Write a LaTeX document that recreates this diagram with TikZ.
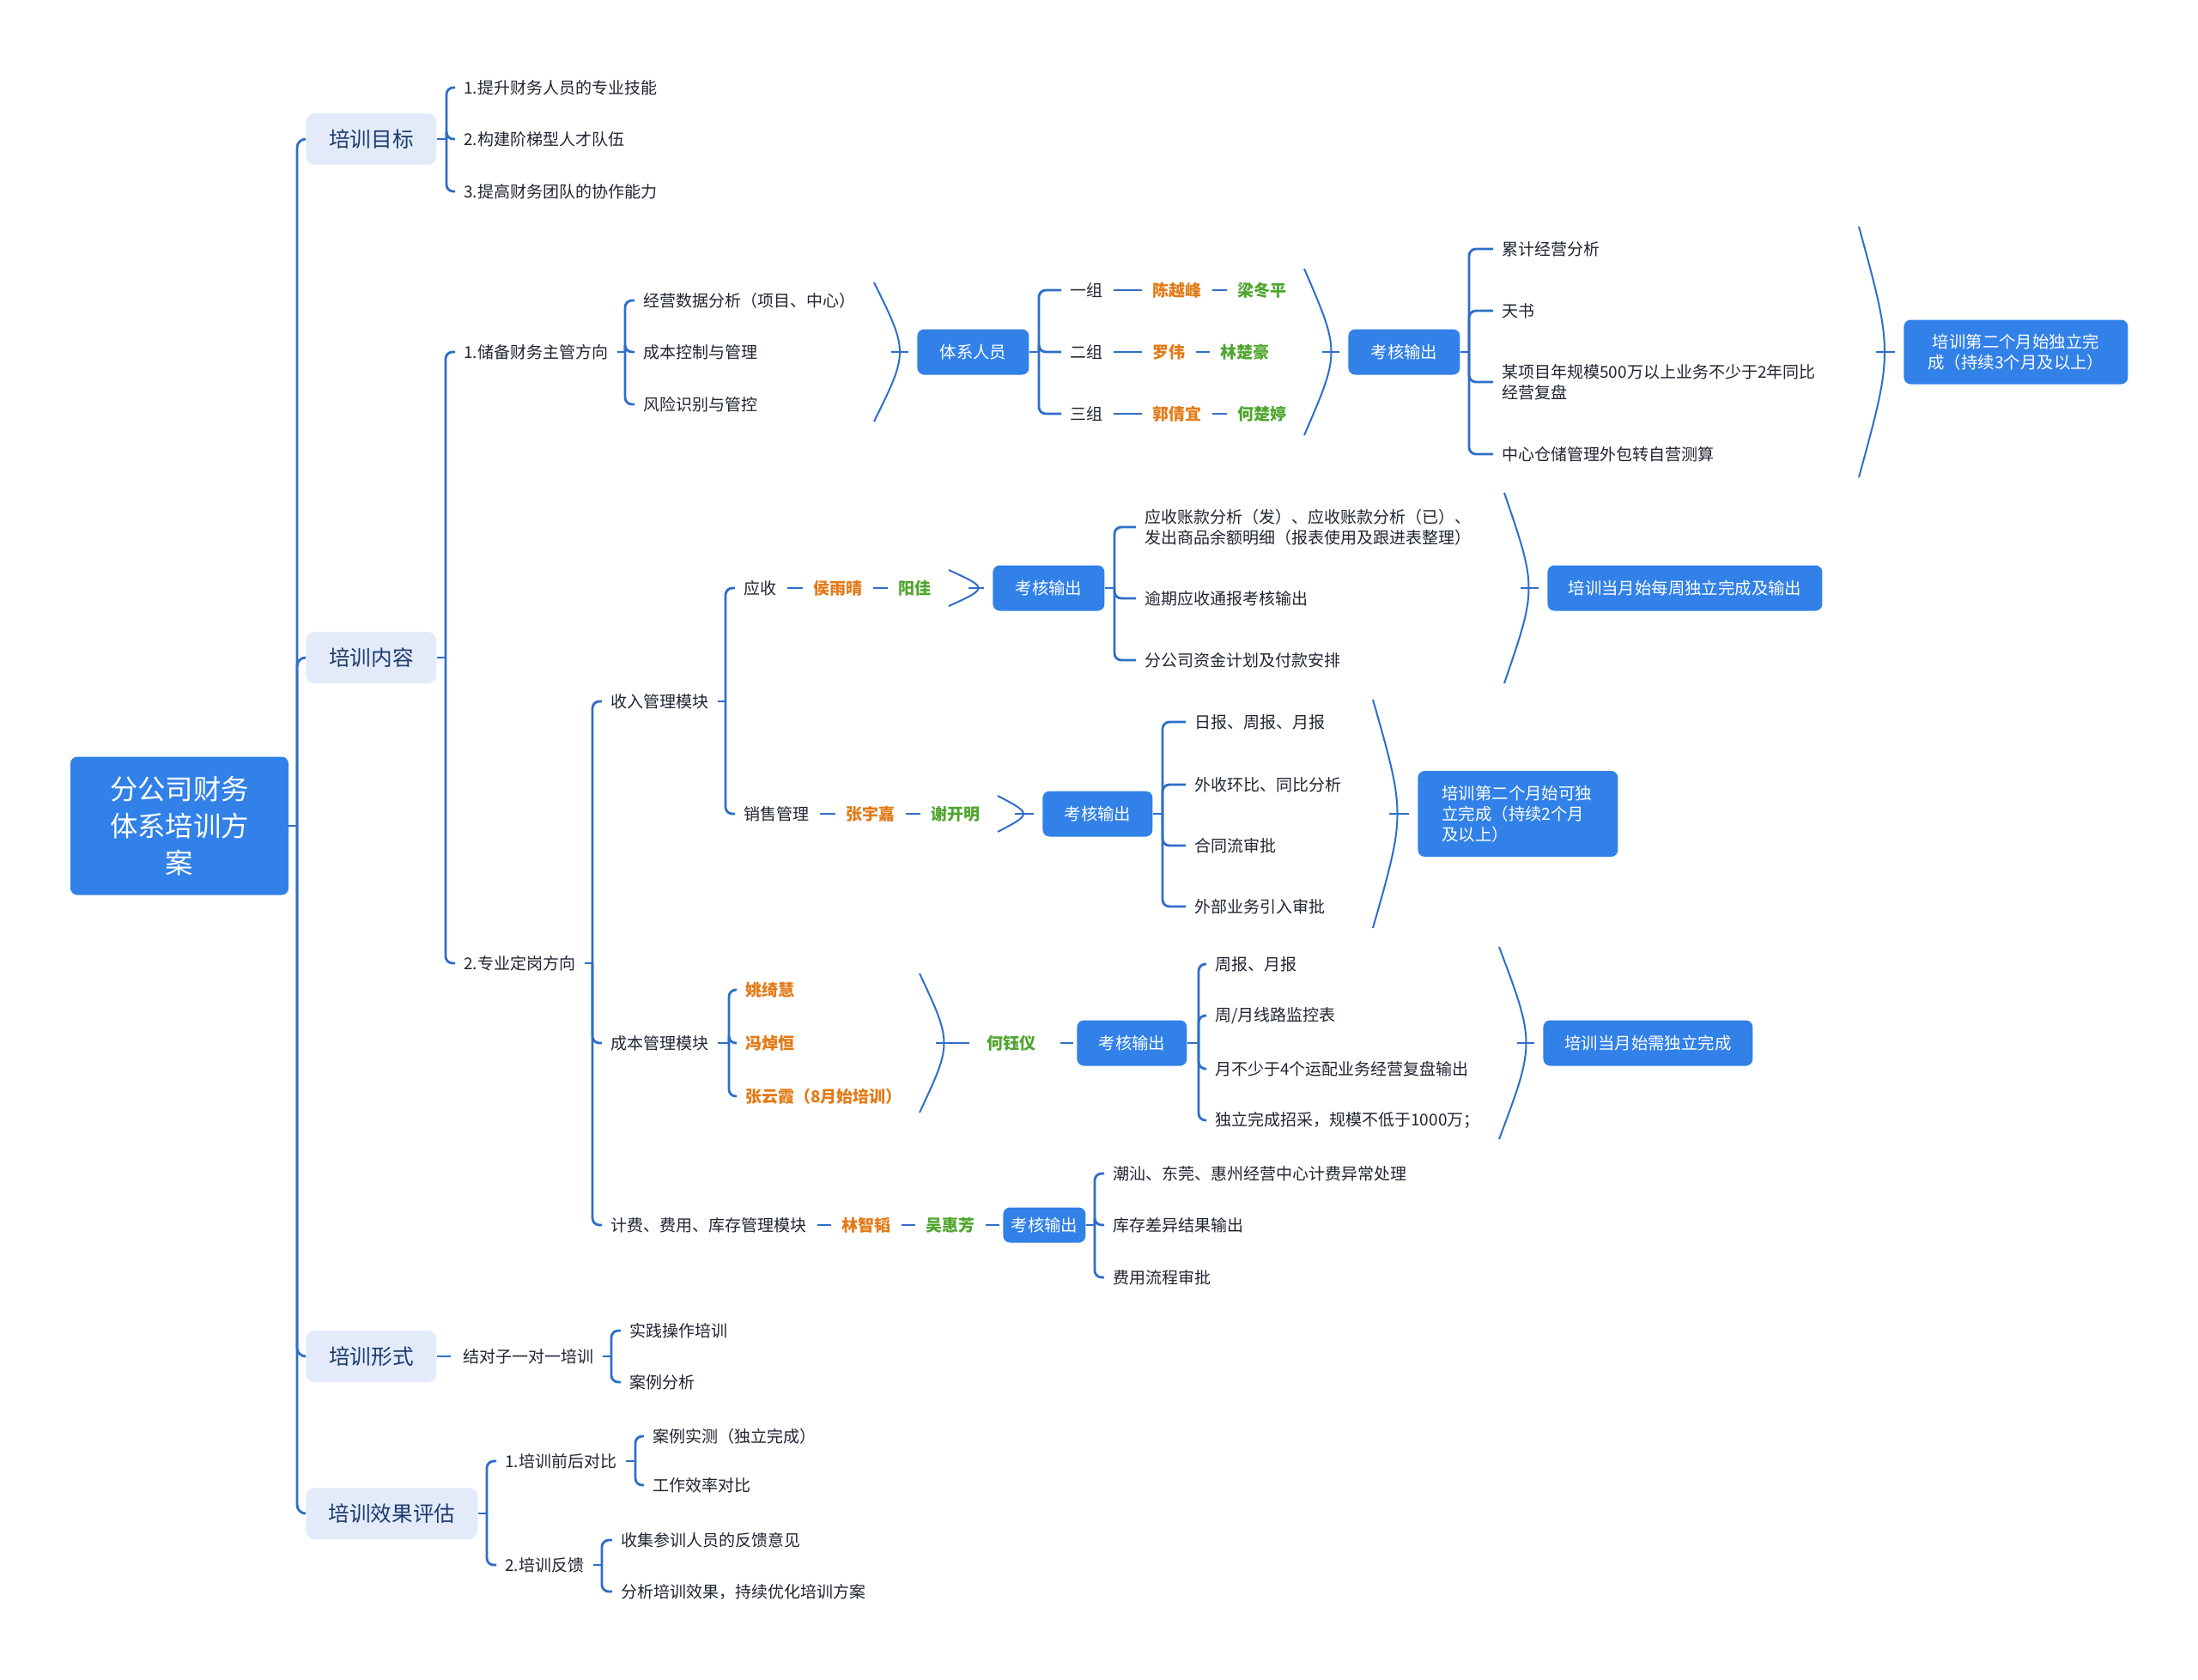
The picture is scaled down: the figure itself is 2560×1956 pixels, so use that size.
\documentclass[tikz,border=0pt]{standalone}
\usepackage{fontspec}
\setmainfont{Noto Sans CJK SC}
\definecolor{bc}{HTML}{3181E8}
\definecolor{lc}{HTML}{2E6EC8}
\definecolor{lb}{HTML}{E3EBFB}
\definecolor{nv}{HTML}{1C3A6C}
\definecolor{tc}{HTML}{1F2430}
\definecolor{orc}{HTML}{E27A17}
\definecolor{grc}{HTML}{4FA52E}
% fan from a text node (gap before the stub)
\newcommand\fan[3]{%
  \draw[conn,shorten <=5pt] (#1.east) -- (#1.east -| #2,0) coordinate (fb);
  \foreach \c in {#3}{\draw[conn,rounded corners=4pt,shorten >=5pt] (fb) |- (\c.west);}%
}
% fan from a box node (stub touches the box)
\newcommand\fanb[3]{%
  \draw[conn] (#1.east) -- (#1.east -| #2,0) coordinate (fb);
  \foreach \c in {#3}{\draw[conn,rounded corners=4pt,shorten >=5pt] (fb) |- (\c.west);}%
}
\newcommand\lnk[2]{\draw[conn,shorten <=6pt,shorten >=6pt] (#1.east) -- (#2.west);}
\newcommand\sarc[5]{\draw[arcl] (#1,#3) .. controls ({2*#2-#1},{(#3+#4)/2}) .. (#1,#4); \coordinate (#5) at (#2,{(#3+#4)/2});}
\begin{document}
\begin{tikzpicture}[x=0.5pt,y=-0.5pt,
  conn/.style={draw=lc,line width=1.4pt},
  arcl/.style={draw=lc,line width=1pt},
  txt/.style={anchor=west,inner xsep=0pt,inner ysep=1pt,text=tc,font=\fontsize{9.5}{12}\selectfont,align=left},
  ornm/.style={txt,text=orc,font=\fontsize{9.5}{12}\selectfont\bfseries},
  grnm/.style={txt,text=grc,font=\fontsize{9.5}{12}\selectfont\bfseries},
  lone/.style={anchor=west,fill=lb,text=nv,rounded corners=5pt,minimum height=30pt,minimum width=76pt,font=\fontsize{12.3}{15}\selectfont,inner sep=0pt},
  bbox/.style={anchor=west,fill=bc,text=white,rounded corners=4pt,minimum height=26.5pt,minimum width=65pt,font=\fontsize{9.7}{12}\selectfont,inner sep=0pt,align=center},
]
\useasboundingbox (0,0) rectangle (2560,1956);
% root
\node[fill=bc,text=white,rounded corners=4pt,minimum width=127pt,minimum height=80.5pt,align=center,font=\fontsize{16.2}{21.5}\selectfont,inner sep=0pt] (root) at (209,962) {分公司财务\\体系培训方\\案};
% level 1
\node[lone] (la) at (356,162) {培训目标};
\node[lone] (lb) at (356,766) {培训内容};
\node[lone] (lc) at (356,1580) {培训形式};
\node[lone,minimum width=100pt] (ld) at (356,1763) {培训效果评估};
\draw[conn] (root.east) -- (root.east -| 346,0) coordinate (tr);
\foreach \c in {la,lb,lc,ld} \draw[conn,rounded corners=5pt] (tr) |- (\c.west);
% goals
\node[txt] (g1) at (540,102) {1.提升财务人员的专业技能};
\node[txt] (g2) at (540,162) {2.构建阶梯型人才队伍};
\node[txt] (g3) at (540,223) {3.提高财务团队的协作能力};
\fanb{la}{520}{g1,g2,g3}
% content
\node[txt] (c1) at (540,410) {1.储备财务主管方向};
\node[txt] (c2) at (540,1122) {2.专业定岗方向};
\fanb{lb}{519}{c1,c2}
\node[txt] (c11) at (749,350) {经营数据分析（项目、中心）};
\node[txt] (c12) at (749,410) {成本控制与管理};
\node[txt] (c13) at (749,471) {风险识别与管控};
\fan{c1}{728}{c11,c12,c13}
\sarc{1018}{1038}{329}{491}{a1}
\node[bbox] (sys) at (1068,410) {体系人员};
\draw[conn,shorten >=5pt] (a1) -- (sys.west);
\node[txt] (gr1) at (1246,338) {一组};
\node[txt] (gr2) at (1246,410) {二组};
\node[txt] (gr3) at (1246,482) {三组};
\fanb{sys}{1210}{gr1,gr2,gr3}
\node[ornm] (n11) at (1342,338) {陈越峰};
\node[grnm] (n12) at (1441,338) {梁冬平};
\node[ornm] (n21) at (1342,410) {罗伟};
\node[grnm] (n22) at (1421,410) {林楚豪};
\node[ornm] (n31) at (1342,482) {郭倩宜};
\node[grnm] (n32) at (1441,482) {何楚婷};
\lnk{gr1}{n11}\lnk{n11}{n12}
\lnk{gr2}{n21}\lnk{n21}{n22}
\lnk{gr3}{n31}\lnk{n31}{n32}
\sarc{1519}{1540}{313}{507}{a2}
\node[bbox] (kh1) at (1570,410) {考核输出};
\draw[conn,shorten >=5pt] (a2) -- (kh1.west);
\node[txt] (k11) at (1749,290) {累计经营分析};
\node[txt] (k12) at (1749,362) {天书};
\node[txt] (k13) at (1749,445) {某项目年规模500万以上业务不少于2年同比\\经营复盘};
\node[txt] (k14) at (1749,529) {中心仓储管理外包转自营测算};
\fanb{kh1}{1711}{k11,k12,k13,k14}
\sarc{2165}{2185}{264}{556}{a3}
\node[bbox,minimum width=130.5pt,minimum height=37.5pt,text width=120pt] (o1) at (2217,410) {培训第二个月始独立完\\成（持续3个月及以上）};
\draw[conn,shorten >=5pt] (a3) -- (o1.west);
% 2. specialised
\node[txt] (m1) at (711,817) {收入管理模块};
\node[txt] (m2) at (711,1215) {成本管理模块};
\node[txt] (m3) at (711,1427) {计费、费用、库存管理模块};
\fan{c2}{690}{m1,m2,m3}
% income
\node[txt] (ys) at (866,685) {应收};
\node[txt] (xs) at (866,948) {销售管理};
\fan{m1}{845}{ys,xs}
\node[ornm] (ys1) at (947,685) {侯雨晴};
\node[grnm] (ys2) at (1046,685) {阳佳};
\lnk{ys}{ys1}\lnk{ys1}{ys2}
\sarc{1105}{1128}{664}{706}{a4}
\node[bbox] (kh2) at (1156,685) {考核输出};
\draw[conn,shorten >=5pt] (a4) -- (kh2.west);
\node[txt] (k21) at (1333,614) {应收账款分析（发）、应收账款分析（已）、\\发出商品余额明细（报表使用及跟进表整理）};
\node[txt] (k22) at (1333,697) {逾期应收通报考核输出};
\node[txt] (k23) at (1333,769) {分公司资金计划及付款安排};
\fanb{kh2}{1298}{k21,k22,k23}
\sarc{1752}{1771}{574}{796}{a5}
\node[bbox,minimum width=160pt] (o2) at (1802,685) {培训当月始每周独立完成及输出};
\draw[conn,shorten >=5pt] (a5) -- (o2.west);
\node[ornm] (xs1) at (985,948) {张宇嘉};
\node[grnm] (xs2) at (1084,948) {谢开明};
\lnk{xs}{xs1}\lnk{xs1}{xs2}
\sarc{1162}{1182}{927}{969}{a6}
\node[bbox,minimum width=64pt] (kh3) at (1214,948) {考核输出};
\draw[conn,shorten >=5pt] (a6) -- (kh3.west);
\node[txt] (k31) at (1391,841) {日报、周报、月报};
\node[txt] (k32) at (1391,914) {外收环比、同比分析};
\node[txt] (k33) at (1391,985) {合同流审批};
\node[txt] (k34) at (1391,1056) {外部业务引入审批};
\fanb{kh3}{1354}{k31,k32,k33,k34}
\sarc{1599}{1618}{815}{1081}{a7}
\node[bbox,minimum width=116.5pt,minimum height=50pt,text width=88.5pt,align=left] (o3) at (1651,948) {培训第二个月始可独\\立完成（持续2个月\\及以上）};
\draw[conn,shorten >=5pt] (a7) -- (o3.west);
% cost
\node[ornm] (cb1) at (868,1153) {姚绮慧};
\node[ornm] (cb2) at (868,1215) {冯焯恒};
\node[ornm] (cb3) at (868,1277) {张云霞（8月始培训）};
\fan{m2}{849}{cb1,cb2,cb3}
\sarc{1071}{1090}{1134}{1296}{a8}
\node[grnm] (hyy) at (1149,1215) {何钰仪};
\draw[conn,shorten >=10pt] (a8) -- (hyy.west);
\node[bbox,minimum width=64pt] (kh4) at (1254,1215) {考核输出};
\draw[conn,shorten <=14pt,shorten >=2pt] (hyy.east) -- (kh4.west);
\node[txt] (k41) at (1415,1123) {周报、月报};
\node[txt] (k42) at (1415,1183) {周/月线路监控表};
\node[txt] (k43) at (1415,1245) {月不少于4个运配业务经营复盘输出};
\node[txt] (k44) at (1415,1305) {独立完成招采，规模不低于1000万；};
\fanb{kh4}{1396}{k41,k42,k43,k44}
\sarc{1746}{1767}{1103}{1327}{a9}
\node[bbox,minimum width=122pt] (o4) at (1797,1215) {培训当月始需独立完成};
\draw[conn,shorten >=5pt] (a9) -- (o4.west);
% billing
\node[ornm] (jf1) at (980,1427) {林智韬};
\node[grnm] (jf2) at (1078,1427) {吴惠芳};
\lnk{m3}{jf1}\lnk{jf1}{jf2}
\node[bbox,minimum width=48pt,minimum height=20.5pt] (kh5) at (1168,1427) {考核输出};
\draw[conn,shorten <=6pt,shorten >=2pt] (jf2.east) -- (kh5.west);
\node[txt] (k51) at (1296,1367) {潮汕、东莞、惠州经营中心计费异常处理};
\node[txt] (k52) at (1296,1427) {库存差异结果输出};
\node[txt] (k53) at (1296,1488) {费用流程审批};
\fanb{kh5}{1275}{k51,k52,k53}
% form
\node[txt] (f1) at (539,1580) {结对子一对一培训};
\draw[conn,shorten >=7pt] (lc.east) -- (f1.west);
\node[txt] (f11) at (733,1550) {实践操作培训};
\node[txt] (f12) at (733,1610) {案例分析};
\fan{f1}{712}{f11,f12}
% evaluation
\node[txt] (e1) at (588,1702) {1.培训前后对比};
\node[txt] (e2) at (588,1823) {2.培训反馈};
\fanb{ld}{567}{e1,e2}
\node[txt] (e11) at (760,1673) {案例实测（独立完成）};
\node[txt] (e12) at (760,1730) {工作效率对比};
\fan{e1}{740}{e11,e12}
\node[txt] (e21) at (723,1794) {收集参训人员的反馈意见};
\node[txt] (e22) at (723,1854) {分析培训效果，持续优化培训方案};
\fan{e2}{701}{e21,e22}
\end{tikzpicture}
\end{document}
